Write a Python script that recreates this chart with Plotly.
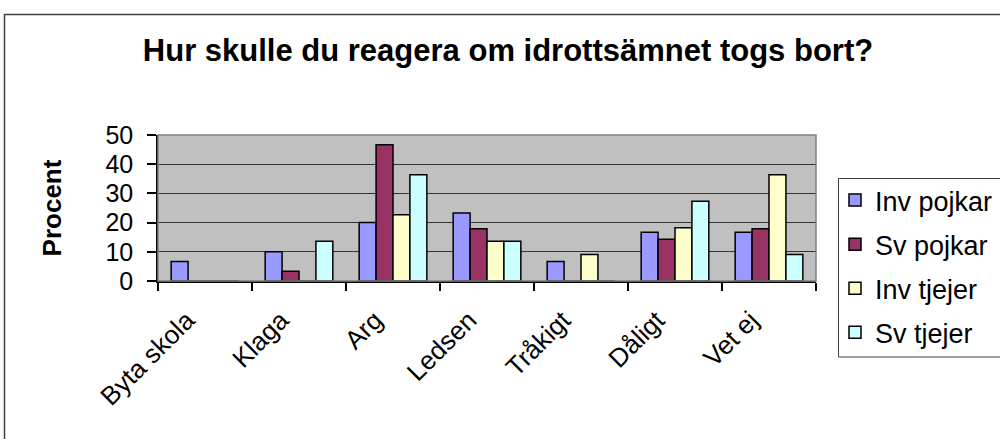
import plotly.graph_objects as go

categories = ["Byta skola", "Klaga", "Arg", "Ledsen", "Tråkigt", "Dåligt", "Vet ej"]
inv_pojkar = [6.7, 10.0, 20.0, 23.3, 6.7, 16.7, 16.7]
sv_pojkar = [0, 3.3, 46.7, 17.9, 0, 14.3, 17.9]
inv_tjejer = [0, 0, 22.7, 13.6, 9.1, 18.2, 36.4]
sv_tjejer = [0, 13.6, 36.4, 13.6, 0, 27.3, 9.1]

series = [
    ("Inv pojkar", inv_pojkar, "#9999FF"),
    ("Sv pojkar", sv_pojkar, "#993366"),
    ("Inv tjejer", inv_tjejer, "#FFFFCC"),
    ("Sv tjejer", sv_tjejer, "#CCFFFF"),
]

FONT = "Liberation Sans, Arial, sans-serif"

fig = go.Figure()
for name, vals, col in series:
    fig.add_trace(go.Bar(
        x=categories, y=vals, name=name, legendgroup=name,
        marker=dict(color=col, line=dict(color="black", width=1.5)),
    ))

L, R, T, B = 158, 816, 135, 281
W, H = 1000, 439
pw, ph = R - L, B - T

def px_x(px):
    return (px - L) / pw

def px_y(py):
    return (B - py) / ph

fig.update_layout(
    width=W, height=H,
    margin=dict(l=L, r=W - R, t=T, b=H - B, pad=0, autoexpand=False),
    paper_bgcolor="white",
    plot_bgcolor="#C0C0C0",
    barmode="group",
    bargap=0.28,
    bargroupgap=0,
    font=dict(family=FONT, color="black"),
    title=dict(
        text="<b>Hur skulle du reagera om idrottsämnet togs bort?</b>",
        x=508 / W, xanchor="center", xref="container",
        y=1 - 50 / H, yanchor="middle", yref="container",
        font=dict(size=31, family=FONT, color="black"),
    ),
    legend=dict(
        xref="container", yref="container",
        x=835 / W, y=1 - 176 / H, xanchor="left", yanchor="top",
        borderwidth=0, bgcolor="rgba(0,0,0,0)",
        font=dict(size=27, family=FONT, color="black"),
        tracegroupgap=6,
        traceorder="grouped",
        maxheight=400,
    ),
    xaxis=dict(
        type="category", automargin=False,
        showline=True, linecolor="black", linewidth=1.5,
        ticks="outside", tickson="boundaries", ticklen=8, tickcolor="black", tickwidth=1.5,
        tickangle=-45,
        tickfont=dict(size=26, family=FONT, color="black"),
        ticklabelstandoff=12,
        ticklabelshift=-18,
        showgrid=False,
    ),
    yaxis=dict(
        range=[0, 50], dtick=10, automargin=False,
        showline=True, linecolor="black", linewidth=1.5,
        ticks="outside", ticklen=9, tickcolor="black", tickwidth=1.5,
        tickfont=dict(size=25, family=FONT, color="black"),
        ticklabelstandoff=9,
        showgrid=True, gridcolor="#333333", gridwidth=1.2,
        zeroline=False,
        title=dict(text="<b>Procent</b>", font=dict(size=26, family=FONT, color="black"), standoff=36),
    ),
    shapes=[
        dict(type="rect", xref="paper", yref="paper", x0=0, x1=1, y0=0, y1=1,
             line=dict(color="#808080", width=1.5), fillcolor="rgba(0,0,0,0)", layer="above"),
        dict(type="rect", xref="paper", yref="paper",
             x0=px_x(4.5), x1=px_x(1010), y0=px_y(450), y1=px_y(14.5),
             line=dict(color="#404040", width=1.5), fillcolor="rgba(0,0,0,0)", layer="above"),
        dict(type="rect", xref="paper", yref="paper",
             x0=px_x(838.5), x1=px_x(1010), y0=px_y(357), y1=px_y(178.5),
             line=dict(color="#404040", width=1), fillcolor="rgba(0,0,0,0)", layer="above"),
    ],
)

fig.write_html(
    "out.html",
    config={"displayModeBar": False},
    post_script="document.body.style.margin='0px';document.body.style.overflow='hidden';",
)
